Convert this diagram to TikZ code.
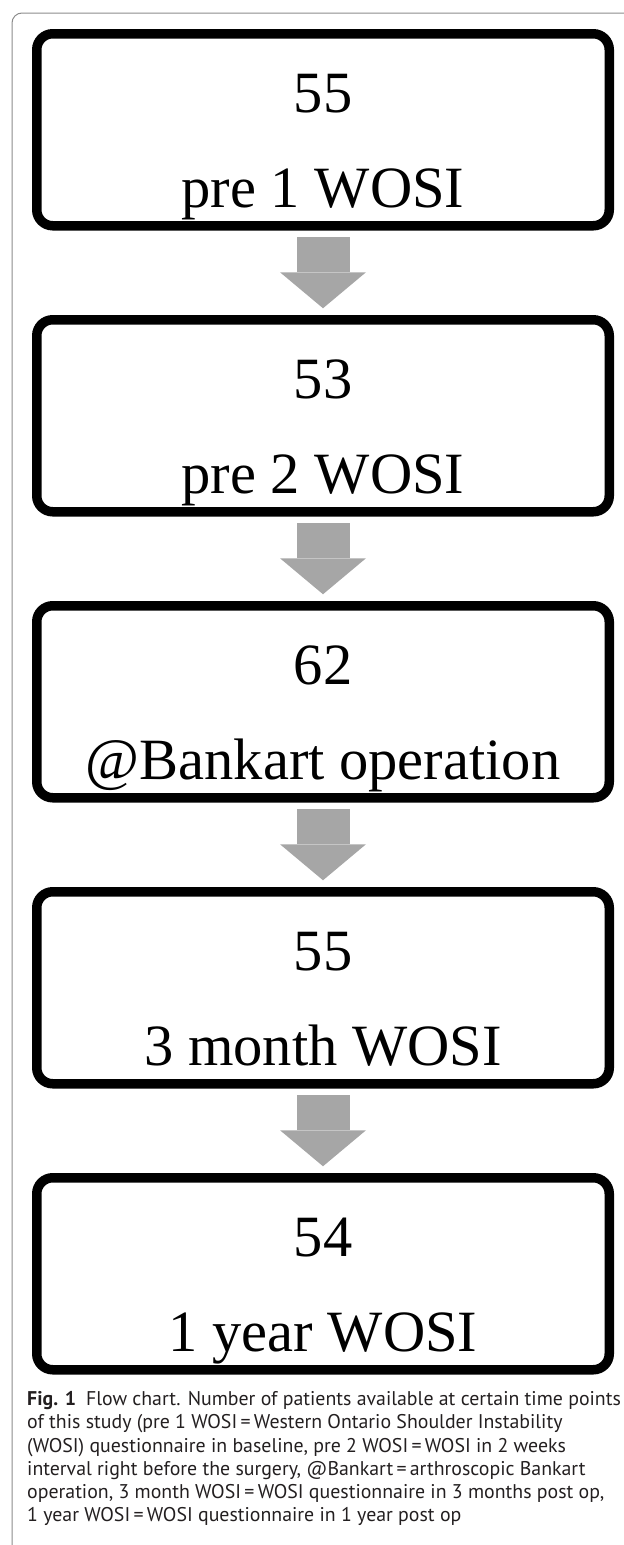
\documentclass[tikz,border=0pt]{standalone}
\usepackage{fontspec}
\setmainfont{Liberation Serif}
\newfontfamily\capfont{PT Sans}
\usepackage{tikz}
\usetikzlibrary{positioning,arrows.meta}
\usepackage{xcolor}
\definecolor{arrowgray}{HTML}{A6A6A6}
\definecolor{framegray}{HTML}{8C8C8C}
\definecolor{captext}{HTML}{231F20}
\newcommand{\upstrut}{\rule{0pt}{73bp}}
\newcommand{\downstrut}{\rule[-13bp]{0pt}{13bp}}

\begin{document}
\begin{tikzpicture}[
    node distance=94bp,
    box/.style={
        rectangle, draw, line width=9.5bp,
        minimum width=572.5bp, minimum height=192bp,
        rounded corners=16bp, inner sep=0pt, outer sep=0pt,
        align=center, font=\fontsize{58.5bp}{95bp}\selectfont
    },
    arrow/.style={
        draw=arrowgray, line width=53bp,
        -{Triangle[width=86bp, length=36bp, line width=0pt]},
        shorten <=11.5bp, shorten >=11.5bp
    },
    figcaption/.style={
        anchor=north west, inner sep=0pt, align=left, text=captext,
        font=\capfont\fontsize{19.85bp}{23.2bp}\selectfont
    },
    frame/.style={draw=framegray, line width=1bp, rounded corners=10bp}
]
\useasboundingbox (0,0) rectangle (624bp,-1545bp);

% Page frame
\coordinate (frameA) at (12bp,-1545bp);
\coordinate (frameB) at (624bp,-13bp);
\draw[frame] (frameA) |- (frameB);

% Flow nodes
\node[box] (pre1) at (323bp,-129.75bp) {\upstrut 55\\pre 1 WOSI\downstrut};
\node[box, below=of pre1] (pre2) {\upstrut 53\\pre 2 WOSI\downstrut};
\node[box, below=of pre2] (op) {\upstrut 62\\@Bankart operation\downstrut};
\node[box, below=of op] (month3) {\upstrut 55\\3 month WOSI\downstrut};
\node[box, below=of month3] (year1) {\upstrut 54\\1 year WOSI\downstrut};

% Flow arrows
\draw[arrow] (pre1) -- (pre2);
\draw[arrow] (pre2) -- (op);
\draw[arrow] (op) -- (month3);
\draw[arrow] (month3) -- (year1);

% Caption
\node[figcaption] (cap) at (27bp,-1388.5bp) {\rule{0pt}{17bp}\textbf{Fig. 1}\enspace Flow chart. Number of patients available at certain time points\\
of this study (pre 1 WOSI\,=\,Western Ontario Shoulder Instability\\
(WOSI) questionnaire in baseline, pre 2 WOSI\,=\,WOSI in 2 weeks\\
interval right before the surgery, @Bankart\,=\,arthroscopic Bankart\\
operation, 3 month WOSI\,=\,WOSI questionnaire in 3 months post op,\\
1 year WOSI\,=\,WOSI questionnaire in 1 year post op};

\end{tikzpicture}
\end{document}
